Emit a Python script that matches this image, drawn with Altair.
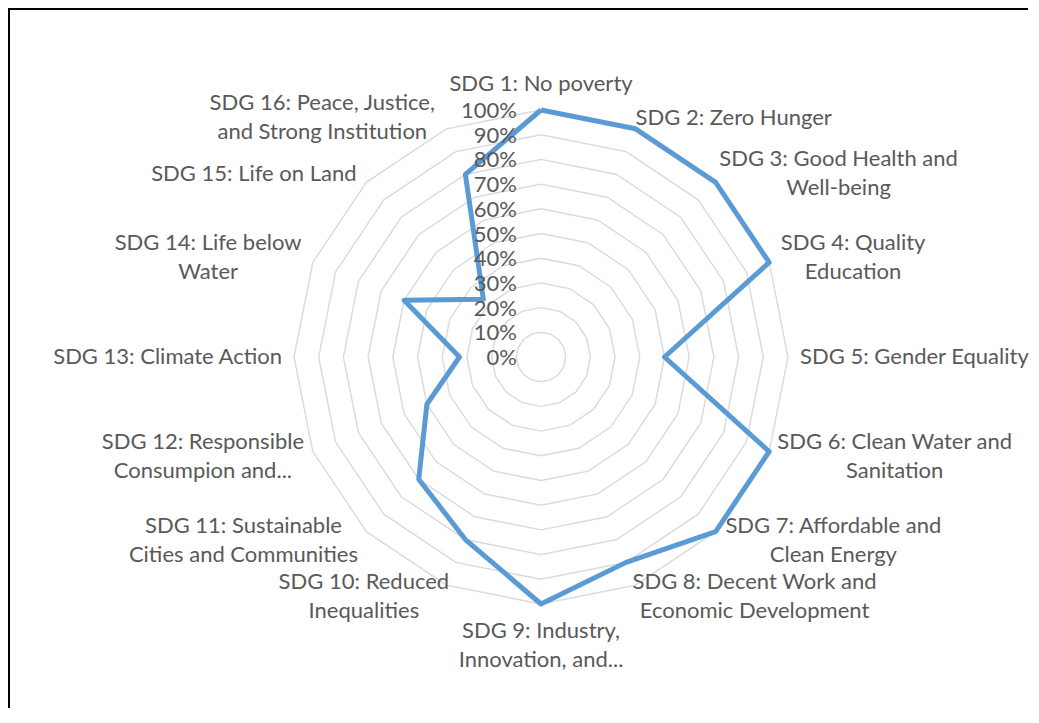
import altair as alt
import pandas as pd

# ---------------- data ----------------
label_line1 = [
    "SDG 1: No poverty", "SDG 2: Zero Hunger", "SDG 3: Good Health and",
    "SDG 4: Quality", "SDG 5: Gender Equality", "SDG 6: Clean Water and",
    "SDG 7: Affordable and", "SDG 8: Decent Work and", "SDG 9: Industry,",
    "SDG 10: Reduced", "SDG 11: Sustainable", "SDG 12: Responsible",
    "SDG 13: Climate Action", "SDG 14: Life below", "SDG 15: Life on Land",
    "SDG 16: Peace, Justice,",
]
label_line2 = [
    "", "", "Well-being", "Education", "", "Sanitation", "Clean Energy",
    "Economic Development", "Innovation, and...", "Inequalities",
    "Cities and Communities", "Consumpion and...", "", "Water", "",
    "and Strong Institution",
]
values = [1.00, 1.00, 1.00, 1.00, 0.50, 1.00, 1.00, 0.90,
          1.00, 0.80, 0.70, 0.50, 0.33, 0.60, 0.33, 0.80]
tick_levels = [0.0, 0.1, 0.2, 0.3, 0.4, 0.5, 0.6, 0.7, 0.8, 0.9, 1.0]
tick_labels = ["0%", "10%", "20%", "30%", "40%", "50%",
               "60%", "70%", "80%", "90%", "100%"]

# ---------------- layout constants ----------------
N = len(values)
W, H = 1023, 700
CX, CY = 533, 349          # centre of the radar in chart pixels
R = 247                    # pixels for 100%
FONT = "Lato"
FS = 22
LH = 29
CHAR_W = 10.4              # approx. average glyph width (px) for label box estimate
GAP = 12
TEXT = "#595959"

XMIN, XMAX = -CX / R, (W - CX) / R
YMIN, YMAX = -(H - CY) / R, CY / R
xscale = alt.Scale(domain=[XMIN, XMAX], nice=False, zero=False)
yscale = alt.Scale(domain=[YMIN, YMAX], nice=False, zero=False)

def X(field):
    return alt.X(field, type="quantitative", scale=xscale, axis=None)

def Y(field):
    return alt.Y(field, type="quantitative", scale=yscale, axis=None)

angle = f"2*PI*datum.idx/{N}"

# series (closed polygon)
series_df = pd.DataFrame({"idx": list(range(N)) + [N],
                          "value": values + [values[0]]})
series = (
    alt.Chart(series_df)
    .transform_calculate(px=f"datum.value*sin({angle})",
                         py=f"datum.value*cos({angle})")
    .mark_line(color="#5B9BD5", strokeWidth=5, strokeJoin="round")
    .encode(x=X("px"), y=Y("py"), order=alt.Order("idx:Q"))
)

# grid polygons
grid_rows = [{"level": lv, "idx": i} for lv in tick_levels[1:] for i in range(N + 1)]
grid = (
    alt.Chart(pd.DataFrame(grid_rows))
    .transform_calculate(px=f"datum.level*sin({angle})",
                         py=f"datum.level*cos({angle})")
    .mark_line(color="#d9d9df", strokeWidth=1.4)
    .encode(x=X("px"), y=Y("py"), detail="level:N", order=alt.Order("idx:Q"))
)

# radial tick labels
ticks_df = pd.DataFrame({"level": tick_levels, "label": tick_labels, "zero": 0.0})
tick_text = (
    alt.Chart(ticks_df)
    .mark_text(align="right", baseline="middle", dx=-24, dy=1,
               font=FONT, fontSize=FS, color=TEXT)
    .encode(x=X("zero"), y=Y("level"), text="label:N")
)

# category labels
cat_df = pd.DataFrame({"idx": list(range(N)), "l1": label_line1, "l2": label_line2})
cat_text = (
    alt.Chart(cat_df)
    .transform_calculate(
        s=f"sin({angle})", c=f"cos({angle})",
        txt="datum.l2 == '' ? datum.l1 : datum.l1 + '\\n' + datum.l2",
        nl="datum.l2 == '' ? 1 : 2",
        hw=f"max(length(datum.l1), length(datum.l2)) * {CHAR_W} / 2 / {R}",
        hh=f"datum.nl * {LH} / 2 / {R}",
        ax=f"(1 + {GAP}/{R}) * datum.s",
        ay=f"(1 + {GAP}/{R}) * datum.c",
    )
    .transform_calculate(
        lx="abs(datum.s) < 0.01 ? datum.ax : (datum.s > 0 ? datum.ax + datum.hw : datum.ax - datum.hw)",
        cy="abs(datum.s) < 0.01 ? (datum.c > 0 ? datum.ay + datum.hh : datum.ay - datum.hh) : datum.ay",
    )
    .transform_calculate(
        ly=f"datum.cy + (datum.nl - 1) * {LH} / 2 / {R}",
    )
    .mark_text(align="center", baseline="middle", lineBreak="\n", lineHeight=LH,
               font=FONT, fontSize=FS, color=TEXT)
    .encode(x=X("lx"), y=Y("ly"), text="txt:N")
)

# frame (cell border seen at top and left) as one open path along the chart edges
edge = 1.0 / R
frame_df = pd.DataFrame({
    "k": [0, 1, 2],
    "fx": [XMIN + edge, XMIN + edge, XMAX - 3 * edge],
    "fy": [YMIN, YMAX - edge, YMAX - edge],
})
frame = alt.Chart(frame_df).mark_line(color="black", strokeWidth=2).encode(
    x=X("fx"), y=Y("fy"), order=alt.Order("k:Q"))

chart = (
    alt.layer(grid, series, tick_text, cat_text, frame)
    .properties(width=W, height=H, padding=0, autosize=alt.AutoSizeParams(type="none"),
                background="white")
    .configure_view(strokeWidth=0, stroke="transparent")
)

chart.save("out.html", embed_options={"renderer": "svg", "actions": False})
